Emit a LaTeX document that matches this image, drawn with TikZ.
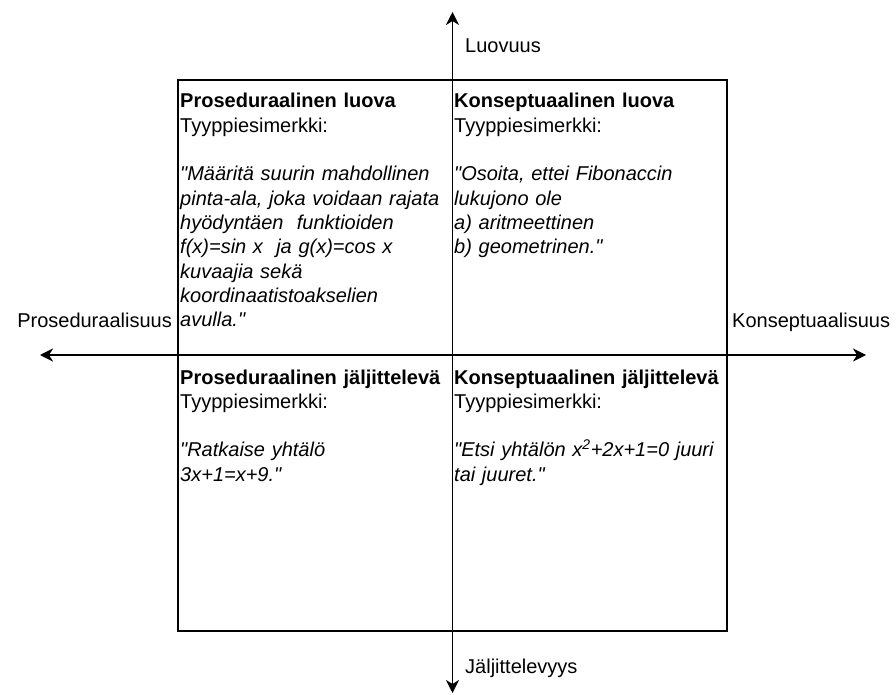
\documentclass[tikz,border=0pt]{standalone}
\usepackage{fontspec}
\setmainfont{Liberation Sans}[Ligatures=TeXOff]
\usetikzlibrary{arrows.meta, calc}

\begin{document}
\begin{tikzpicture}[x=1pt, y=-1pt,
    quadtext/.style={anchor=base west, inner sep=0pt, text width=300pt, align=left, font=\fontsize{20}{24.3}\selectfont},
    axislabel/.style={inner sep=0pt, font=\fontsize{20}{24}\selectfont},
    axis/.style={line width=1.8pt, {Stealth[length=13pt, width=13pt, inset=4pt]}-{Stealth[length=13pt, width=13pt, inset=4pt]}}]
    \useasboundingbox (0,0) rectangle (896,695);
    \coordinate (W) at (40,355);
    \coordinate (E) at (866,355);
    \coordinate (N) at (452.5,12);
    \coordinate (S) at (452.5,693);
    \draw [line width=1.8pt] (178,80) rectangle (727,631);
    \draw [axis] (W) -- (E);
    \draw [axis] (N) -- (S);
    \node [axislabel, anchor=base west] (luovuus) at (465,53) {Luovuus};
    \node [axislabel, anchor=base west] (jaljittelevyys) at (465,673) {Jäljittelevyys};
    \node [axislabel, anchor=base east] (proseduraalisuus) at (172,327) {Proseduraalisuus};
    \node [axislabel, anchor=base west] (konseptuaalisuus) at (732,327) {Konseptuaalisuus};
    \node [quadtext] (prosluova) at (180,108) {\textbf{Proseduraalinen luova}\\
        Tyyppiesimerkki:\\[\baselineskip]
        {\itshape "Määritä suurin mahdollinen\\
        pinta-ala, joka voidaan rajata\\
        hyödyntäen\ \ funktioiden\\
        f(x)=sin x\ \ ja g(x)=cos x\\
        kuvaajia sekä\\
        koordinaatistoakselien\\
        avulla."}};
    \node [quadtext] (konsluova) at (454,108) {\textbf{Konseptuaalinen luova}\\
        Tyyppiesimerkki:\\[\baselineskip]
        {\itshape "Osoita, ettei Fibonaccin\\
        lukujono ole\\
        a) aritmeettinen\\
        b) geometrinen."}};
    \node [quadtext] (prosjalj) at (180,384) {\textbf{Proseduraalinen jäljittelevä}\\
        Tyyppiesimerkki:\\[\baselineskip]
        {\itshape "Ratkaise yhtälö\\
        3x+1=x+9."}};
    \node [quadtext] (konsjalj) at (454,384) {\textbf{Konseptuaalinen jäljittelevä}\\
        Tyyppiesimerkki:\\[\baselineskip]
        {\itshape "Etsi yhtälön x\textsuperscript{2}+2x+1=0 juuri\\
        tai juuret."}};
\end{tikzpicture}
\end{document}
